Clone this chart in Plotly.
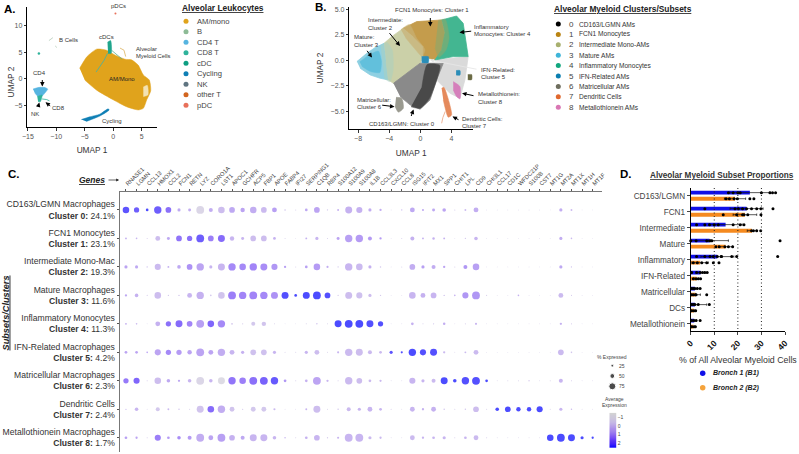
import plotly.graph_objects as go

W, H = 799, 454

# ---------- Panel A data ----------
leuk_names = ["AM/mono", "B", "CD4 T", "CD8 T", "cDC", "Cycling", "NK", "other T", "pDC"]
leuk_colors = ["#E0A31C", "#8DBB96", "#56B4E0", "#2FB39B", "#0E9E82", "#0F7FB5", "#5F7480", "#D2651F", "#E8705A"]
am_x = [-5.9, -4.6, -2.9, -1.2, 0.3, 2.1, 3.2, 4.4, 5.3, 6.35, 6.6, 5.9, 5.3, 4.4, 2.35, 0.0, -2.9, -5.0]
am_y = [2.0, 4.2, 5.6, 5.4, 4.5, 3.7, 3.6, 2.6, 0.75, -0.2, -2.2, -3.9, -5.5, -5.8, -5.2, -3.9, -2.1, -0.2]
hole_x = [5.3, 6.0, 6.1, 5.3]
hole_y = [-1.5, -1.2, -3.0, -3.3]
cd4_x = [-14.1, -13.2, -12.0, -11.5, -11.9, -12.6, -13.2, -13.8]
cd4_y = [-1.9, -1.6, -1.6, -1.9, -2.5, -3.3, -3.3, -2.6]
cd8_x = [-13.35, -12.5, -12.8, -13.2]
cd8_y = [-3.3, -3.0, -4.25, -4.25]
cyc_x = [-5.6, -4.1, -2.35, -0.9, -0.7, -2.35, -4.7]
cyc_y = [-7.6, -7.1, -6.6, -5.6, -5.8, -6.95, -7.95]
cdc_x = [-1.0, -0.45, -0.35, -0.9]
cdc_y = [6.9, 7.2, 4.8, 4.8]
cdc_line_x = [-1.0, -1.6, -3.0]
cdc_line_y = [4.8, 3.5, 1.3]
cdc_line2_x = [-0.3, 0.6, 1.6]
cdc_line2_y = [5.4, 4.6, 3.7]
tan_x = [1.2, 1.9, 2.2]
tan_y = [5.8, 5.4, 4.2]
cd8_tail_x = [-12.5, -11.7, -11.2]
cd8_tail_y = [-3.75, -3.85, -4.1]
bcell_x = [-11.3, -10.6]
bcell_y = [7.2, 7.75]
bcell2_x = [-10.2, -9.9]
bcell2_y = [6.2, 5.9]
teal_pt = ([-13.06], [4.8])
pdc_pt = ([0.4], [12.3])

# ---------- Panel B data ----------
sub_names = ["CD163/LGMN AMs", "FCN1 Monocytes", "Intermediate Mono-AMs", "Mature AMs", "Inflammatory Monocytes",
             "IFN-Related AMs", "Matricellular AMs", "Dendritic Cells", "Metallothionein AMs"]
sub_colors = ["#000000", "#BA8413", "#A8B06F", "#3FB5D9", "#12A77E", "#0A7EB0", "#6E6E5E", "#E0682E", "#D977B4"]
mature_x = [-8.16, -6.88, -5.81, -4.66, -4.4, -4.1, -5.17, -6.45, -7.74]
mature_y = [-0.13, 0.68, 1.24, 1.66, -0.13, -1.92, -1.76, -1.43, -0.78]
mature_core_x = [-7.8, -6.6, -5.4, -5.0, -5.2, -6.4, -7.5]
mature_core_y = [-0.15, 0.5, 0.9, -0.1, -1.2, -1.1, -0.6]
inter_x = [-4.66, -3.68, -2.18, -0.9, 0.38, 0.38, -0.04, -1.75, -3.46, -4.1, -4.4]
inter_y = [1.66, 2.31, 3.13, 2.31, 1.34, 0.36, -0.29, -1.27, -2.25, -1.92, -0.13]
blend_mi_x = [-5.1, -4.3, -3.6, -3.5, -3.9, -4.6]
blend_mi_y = [1.4, 1.75, 1.0, -1.0, -2.1, -1.8]
blend_if_x = [-2.5, -1.4, -0.5, 0.6, 0.2, -0.8, -1.9]
blend_if_y = [3.0, 3.5, 2.2, 1.0, 0.4, 1.2, 2.2]
fcn_x = [-2.18, -0.47, 2.74, 3.16, 2.74, 1.88, 0.38, 0.38, -0.9]
fcn_y = [3.13, 3.78, 3.94, 2.64, 1.01, 0.03, 0.36, 1.34, 2.31]
infl_x = [2.74, 4.66, 5.51, 5.94, 6.15, 4.23, 1.88, 2.74, 3.16]
infl_y = [3.94, 4.33, 3.62, 1.66, 0.36, 0.36, 0.03, 1.01, 2.64]
blend_fi_x = [2.3, 3.2, 3.7, 3.3, 2.4, 1.9]
blend_fi_y = [3.9, 4.0, 2.2, 1.0, 0.3, 1.2]
cd163_x = [-3.46, -1.75, -0.04, 2.95, 2.09, 1.24, -0.04, -1.32, -2.6]
cd163_y = [-2.25, -1.27, -0.29, -0.29, -1.92, -3.88, -4.79, -4.36, -3.55]
core_x = [-1.2, 0.0, 1.2, 2.5, 0.9, 0.2]
core_y = [-4.55, -4.7, -3.7, -0.5, -0.4, -2.6]
grey_x = [1.88, 6.15, 5.73, 5.09, 3.8, 2.09, 2.95]
grey_y = [0.03, 0.36, -1.92, -3.71, -3.22, -1.92, -0.29]
metal_x = [4.23, 5.09, 5.09, 4.66, 4.23]
metal_y = [-2.08, -2.57, -3.78, -3.55, -2.9]
dc_x = [2.74, 3.03, 4.02, 3.59, 2.95]
dc_y = [-2.74, -2.64, -5.34, -5.57, -3.88]
dc_tail_x = [3.2, 2.9, 2.74]
dc_tail_y = [-5.0, -5.6, -6.16]
ifn_x = [0.17, 1.03, 1.03, 0.17]
ifn_y = [0.36, 0.36, -0.23, -0.23]
ifn2_x = [4.6, 5.1, 5.1, 4.6]
ifn2_y = [-1.0, -1.0, -1.45, -1.45]
matr_x = [-3.12, -2.39, -2.18, -2.82, -3.25]
matr_y = [-3.62, -3.71, -4.69, -5.08, -4.53]
olive_x = [6.1, 6.6, 6.6, 6.1]
olive_y = [-1.4, -1.4, -1.9, -1.9]

# ---------- Panel C data ----------
genes = ["RNASE1", "LGMN", "CCL13", "HMOX1", "CCL2", "FCN1", "RETN", "LYZ", "CORO1A", "LST1",
         "APOC1", "GCHFR", "ACP5", "FBP1", "APOE", "FABP4", "IFI27", "SERPING1", "C1QB", "RBP4",
         "S100A12", "S100A9", "S100A8", "IL1B", "CCL3L3", "CXCL10", "CCL8", "ISG15", "IFIT2", "MX1",
         "SPP1", "CHIT1", "LPL", "CD9", "CHI3L1", "CCL17", "CD1C", "WFDC21P", "S100B", "CST7",
         "MT1G", "MT2A", "MT1X", "MT1H", "MT1F"]
subsets = ["CD163/LGMN Macrophages<br><b>Cluster 0:</b> 24.1%",
           "FCN1 Monocytes<br><b>Cluster 1:</b> 23.1%",
           "Intermediate Mono-Mac<br><b>Cluster 2:</b> 19.3%",
           "Mature Macrophages<br><b>Cluster 3:</b> 11.6%",
           "Inflammatory Monocytes<br><b>Cluster 4:</b> 11.3%",
           "IFN-Related Macrophages<br><b>Cluster 5:</b> 4.2%",
           "Matricellular Macrophages<br><b>Cluster 6:</b> 2.3%",
           "Dendritic Cells<br><b>Cluster 7:</b> 2.4%",
           "Metallothionein Macrophages<br><b>Cluster 8:</b> 1.7%"]
pct0 = [70, 55, 25, 80, 60, 30, 28, 85, 40, 70, 60, 45, 70, 60, 50, 12, 6, 25, 60, 8, 16, 75, 65, 30, 20, 3, 8, 50, 18, 28, 35, 6, 15, 50, 3, 3, 3, 3, 3, 3, 2, 30, 15, 2, 2]
exp0 = [2.3, 2.1, 2.5, 2.1, 1.7, .5, .4, -.9, .4, 0, .5, .6, .4, .1, .7, -.3, -.6, .5, .6, -.3, .3, .3, .3, .4, .4, -.6, .2, .5, .5, .5, .6, -.3, .1, .4, -.6, -.6, -.6, -.6, -.6, -.6, -.6, .4, .1, -.6, -.6]
pct1 = [15, 12, 5, 50, 28, 60, 55, 85, 60, 75, 45, 28, 60, 60, 25, 5, 3, 15, 30, 6, 28, 80, 80, 40, 20, 3, 5, 40, 15, 22, 15, 3, 8, 35, 3, 3, 3, 3, 3, 3, 2, 30, 12, 2, 2]
exp1 = [.3, .2, -.4, 0, .5, 1.6, 1.7, 2.1, 1.4, 1.8, .2, .2, 0, 0, .3, -.6, -.6, .3, .2, -.5, .6, .7, .8, .8, .8, -.6, -.5, .3, .3, .3, .3, -.6, -.3, .2, -.6, -.6, -.6, -.6, -.6, -.6, -.6, .4, .1, -.6, -.6]
pct2 = [30, 30, 8, 65, 15, 35, 60, 80, 30, 75, 80, 70, 80, 75, 65, 20, 5, 25, 70, 18, 8, 80, 70, 30, 10, 4, 5, 60, 30, 40, 20, 5, 40, 70, 3, 3, 3, 3, 3, 3, 3, 30, 8, 3, 2]
exp2 = [.6, .5, 0, .1, .4, .5, 1.0, .6, .2, .2, 1.2, 1.2, 1.3, 1.1, .9, .7, -.6, .7, .8, .4, -.3, .2, .1, .3, -.3, -.6, -.5, .4, .7, .4, .6, -.5, .9, .7, -.6, -.6, -.6, -.6, -.6, -.6, -.6, .5, -.1, -.6, -.6]
pct3 = [20, 35, 5, 70, 8, 10, 50, 80, 12, 70, 85, 80, 85, 80, 75, 75, 25, 75, 85, 60, 8, 75, 65, 30, 8, 3, 4, 70, 50, 60, 10, 12, 65, 85, 6, 3, 4, 12, 4, 2, 3, 50, 6, 4, 3]
exp3 = [.5, .3, -.4, 0, -.3, -.3, .2, .3, -.3, -.2, 1.4, 1.3, 1.3, 1.2, 1.0, 2.4, 2.5, 2.5, 2.5, 2.4, -.4, 0, -.1, 0, -.4, -.6, -.6, .2, .3, .2, -.2, .3, .9, .9, -.5, -.6, -.6, .3, -.5, -.6, -.6, .1, -.4, -.6, -.6]
pct4 = [15, 12, 4, 50, 55, 75, 60, 85, 70, 80, 15, 8, 40, 45, 5, 3, 3, 5, 10, 5, 75, 85, 85, 75, 55, 4, 4, 25, 5, 8, 22, 3, 6, 18, 3, 3, 3, 3, 3, 3, 3, 20, 6, 3, 2]
exp4 = [.3, .1, -.5, .3, 1.7, 1.8, 1.3, .7, 1.9, 1.2, -.4, -.5, -.3, -.2, -.6, -.6, -.6, -.6, -.2, -.6, 2.5, 2.5, 2.5, 2.4, 2.4, -.6, -.6, .3, -.5, -.3, .4, -.6, -.5, .2, -.6, -.6, -.6, -.6, -.6, -.6, -.6, .3, -.4, -.6, -.6]
pct5 = [25, 25, 12, 65, 55, 55, 45, 85, 50, 80, 50, 30, 60, 60, 30, 5, 5, 30, 50, 5, 18, 80, 75, 40, 25, 30, 18, 80, 65, 75, 20, 4, 15, 50, 3, 3, 3, 3, 3, 3, 3, 60, 12, 3, 2]
exp5 = [.6, .6, .8, .6, 1.2, .8, .6, .6, .6, .4, .2, .3, -.1, -.1, .2, -.6, -.6, .2, 0, -.6, .2, .1, 0, .1, .1, 2.3, 2.4, 2.5, 2.4, 2.4, .1, -.6, .1, .1, -.6, -.6, -.6, -.6, -.6, -.6, -.6, .1, -.2, -.6, -.6]
pct6 = [55, 65, 5, 70, 35, 20, 35, 85, 35, 75, 80, 70, 85, 85, 80, 25, 6, 25, 85, 20, 6, 80, 60, 25, 20, 4, 3, 65, 30, 40, 75, 35, 80, 85, 25, 4, 5, 5, 10, 4, 5, 40, 6, 3, 3]
exp6 = [1.5, 1.9, -.4, 0, .5, .5, .2, -.9, .2, -1.2, 1.6, 1.4, 1.7, 2.0, 2.2, .9, -.6, .3, .6, .2, -.5, .1, 0, .1, .1, -.6, -.6, .2, .2, .1, 2.5, 2.5, 2.4, 2.4, 2.5, -.6, -.6, -.6, -.4, -.6, -.6, .2, -.4, -.6, -.6]
pct7 = [8, 35, 4, 40, 15, 10, 5, 75, 70, 80, 50, 8, 50, 50, 18, 3, 3, 15, 75, 5, 10, 40, 30, 50, 25, 6, 3, 50, 20, 50, 10, 5, 10, 60, 5, 35, 60, 45, 45, 65, 5, 30, 10, 3, 3]
exp7 = [.1, .2, -.5, -.3, .1, -.2, -.5, -.2, 1.8, .4, -.2, -.4, -.3, -.3, .1, -.6, -.6, .2, 0, -.6, -.3, .1, .2, .2, .2, -.5, -.6, .2, .3, .3, -.2, -.6, -.3, 0, -.6, 2.5, 2.5, 2.5, 2.5, 2.5, -.6, .2, .1, -.6, -.6]
pct8 = [25, 20, 5, 65, 25, 35, 40, 85, 50, 85, 60, 40, 75, 75, 35, 12, 5, 25, 60, 8, 18, 85, 85, 30, 20, 4, 3, 50, 20, 25, 30, 6, 25, 50, 6, 3, 3, 3, 3, 3, 70, 85, 75, 30, 20]
exp8 = [.7, .6, -.4, 1.4, .8, 1.1, .8, .4, .6, .7, .3, .5, .2, .2, .2, .1, -.6, .3, .2, -.4, .2, .2, .2, .1, .1, -.6, -.6, .1, .2, .2, .2, -.5, .2, .1, -.5, -.6, -.6, -.6, -.6, -.6, 2.5, 2.5, 2.5, 2.5, 2.5]
pct_rows = [pct0, pct1, pct2, pct3, pct4, pct5, pct6, pct7, pct8]
exp_rows = [exp0, exp1, exp2, exp3, exp4, exp5, exp6, exp7, exp8]
legend_pct = [25, 50, 75]
legend_exp = [-1.5, -1.25, -1, -.75, -.5, -.25, 0, .25, .5, .75, 1, 1.25, 1.5, 1.75, 2, 2.25, 2.5]

# ---------- Panel D data ----------
d_names = ["CD163/LGMN", "FCN1", "Intermediate", "Mature", "Inflammatory", "IFN-Related", "Matricellular", "DCs", "Metallothionein"]
b1_mean = [25.1, 23.7, 14.8, 8.0, 11.3, 4.2, 1.8, 1.8, 1.5]
b2_mean = [18.8, 23.0, 26.0, 14.8, 4.0, 2.5, 2.1, 1.4, 1.2]
b1_err = [8.5, 7.0, 7.0, 8.0, 7.0, 1.6, 1.0, 5.0, 1.0]
b2_err = [4.5, 5.0, 2.0, 3.0, 3.5, 1.0, 2.0, 0.8, 0.6]
b1_pts = [[16, 18, 20, 21, 30, 33.6, 34.7, 36],
          [6, 18.8, 20.2, 22, 23.7, 25.8, 28, 29.8, 34.9],
          [2.5, 6, 8, 10, 11.7, 18, 21, 22.6],
          [0, 2.3, 6.8, 8, 8.5, 9, 37.9],
          [2.5, 6, 8.2, 9.6, 11.3, 12.9, 13.1, 17.4, 19.5, 36.9],
          [.4, 2.5, 4, 5, 6, 7],
          [.4, 1.1, 1.8, 2.8, 4],
          [.4, 1.1, 1.8, 3.2, 7.9],
          [.4, 1.4, 2.3, 4]]
b2_pts = [[15, 16.4, 18.4, 19.8, 25.1, 26.8],
          [13.8, 19.5, 22, 22.6, 24.2, 29.8],
          [25.8, 26.6, 28, 29.7],
          [10.7, 12.1, 14.5, 16, 17.8],
          [1.1, 2.8, 4.7, 6.8, 9.6, 12],
          [1.1, 2.3, 3.2, 4.2],
          [.4, 1.1, 2, 2.3, 6.8],
          [.4, 1.4, 2.1],
          [.4, 1.4, 2]]
d_grid = [10, 20, 30]

COLOR = [[0, "#D3D3D3"], [.25, "#C7BAE4"], [.4, "#B59CE8"], [.55, "#9A78EE"], [.7, "#7A50F4"], [.85, "#4A25F9"], [1, "#0000FF"]]
TXT = "#333333"
FONT = "Liberation Sans, Arial, sans-serif"


def dx(a, b):
    return [a / W, b / W]


def dy(t, b):
    return [1 - b / H, 1 - t / H]


fig = go.Figure()


def poly(xs, ys, color, ax, opacity=1.0, smooth=True):
    ln = dict(color=color, width=0.5, shape="spline", smoothing=0.6) if smooth else dict(color=color, width=0.8, shape="linear")
    fig.add_trace(go.Scatter(x=xs, y=ys, mode="lines", fill="toself", fillcolor=color, opacity=opacity, line=ln,
                             xaxis="x" + ax, yaxis="y" + ax, hoverinfo="skip", showlegend=False))


def line(xs, ys, color, ax, width=1.0):
    fig.add_trace(go.Scatter(x=xs, y=ys, mode="lines", line=dict(color=color, width=width),
                             xaxis="x" + ax, yaxis="y" + ax, hoverinfo="skip", showlegend=False))


# Panel A marks
poly(am_x, am_y, leuk_colors[0], "")
poly(hole_x, hole_y, "#F3E2B4", "")
line(cdc_line_x, cdc_line_y, "#5FB08F", "", 1.0)
line(cdc_line2_x, cdc_line2_y, "#5FB08F", "", 0.8)
line(tan_x, tan_y, "#E3C27F", "", 1.0)
poly(cdc_x, cdc_y, "#1FA58C", "")
poly(cd4_x, cd4_y, leuk_colors[2], "")
poly(cd8_x, cd8_y, leuk_colors[3], "")
line(cd8_tail_x, cd8_tail_y, leuk_colors[3], "", 0.8)
poly(cyc_x, cyc_y, leuk_colors[5], "")
line(bcell_x, bcell_y, "#A9C3AE", "", 0.7)
line(bcell2_x, bcell2_y, "#A9C3AE", "", 0.7)
fig.add_trace(go.Scatter(x=teal_pt[0], y=teal_pt[1], mode="markers", marker=dict(size=2.5, color=leuk_colors[3]), hoverinfo="skip", showlegend=False))
fig.add_trace(go.Scatter(x=pdc_pt[0], y=pdc_pt[1], mode="markers", marker=dict(size=2, color=leuk_colors[8]), hoverinfo="skip", showlegend=False))

# Panel B marks
poly(grey_x, grey_y, "#DADADA", "2", smooth=False)
poly(mature_x, mature_y, "#8FD0E2", "2", smooth=False)
poly(mature_core_x, mature_core_y, "#62C0DC", "2")
poly(inter_x, inter_y, "#CBD0A8", "2", smooth=False)
poly(blend_mi_x, blend_mi_y, "#ABD0C0", "2", 0.55)
poly(fcn_x, fcn_y, "#C49C4C", "2", smooth=False)
poly(blend_if_x, blend_if_y, "#C9B276", "2", 0.7)
poly(infl_x, infl_y, "#43B691", "2", smooth=False)
poly(blend_fi_x, blend_fi_y, "#8BA96C", "2", 0.6)
poly(cd163_x, cd163_y, "#8A8A8A", "2", smooth=False)
poly(core_x, core_y, "#3A3A3A", "2", 0.8)
poly(metal_x, metal_y, "#D57FBB", "2")
poly(dc_x, dc_y, "#E58A5C", "2")
line(dc_tail_x, dc_tail_y, "#E9A27F", "2", 0.8)
poly(ifn_x, ifn_y, "#2A8DB8", "2")
poly(ifn2_x, ifn2_y, "#2A8DB8", "2")
poly(matr_x, matr_y, "#9A9A90", "2")
poly(olive_x, olive_y, "#6B6B45", "2")

# Panel C marks
for r, label in enumerate(subsets):
    fig.add_trace(go.Scatter(
        x=genes, y=[label] * len(genes), mode="markers", xaxis="x3", yaxis="y3", showlegend=False, hoverinfo="skip",
        marker=dict(size=[p * 0.085 + 0.6 for p in pct_rows[r]], color=exp_rows[r], colorscale=COLOR,
                    cmin=-1.5, cmax=2.5, line=dict(width=0))))

# Panel D marks
for offs, means, errs, pts, col in [(-0.19, b1_mean, b1_err, b1_pts, "#1010E8"), (0.19, b2_mean, b2_err, b2_pts, "#F58A1F")]:
    ys = [i + offs for i in range(len(d_names))]
    fig.add_trace(go.Bar(x=means, y=ys, orientation="h", width=0.24, marker=dict(color=col, line=dict(width=0)),
                         error_x=dict(type="data", array=errs, color="#111111", thickness=0.7, width=1.2),
                         xaxis="x4", yaxis="y4", showlegend=False, hoverinfo="skip"))
    px_ = [v for row in pts for v in row]
    py_ = [ys[i] for i, row in enumerate(pts) for _ in row]
    fig.add_trace(go.Scatter(x=px_, y=py_, mode="markers", marker=dict(size=3, color="black"),
                             xaxis="x4", yaxis="y4", showlegend=False, hoverinfo="skip", cliponaxis=False))

# Legends on overlay axis (pixel space)
fig.add_trace(go.Scatter(x=[186] * 9, y=[21.3 + 10.5 * i for i in range(9)], mode="markers",
                         marker=dict(size=5, color=leuk_colors), xaxis="x5", yaxis="y5", showlegend=False, hoverinfo="skip"))
fig.add_trace(go.Scatter(x=[558.3] * 9, y=[24 + 10.4 * i for i in range(9)], mode="markers",
                         marker=dict(size=5, color=sub_colors), xaxis="x5", yaxis="y5", showlegend=False, hoverinfo="skip"))
fig.add_trace(go.Scatter(x=[702.7, 702.7], y=[373.3, 387.7], mode="markers",
                         marker=dict(size=5.5, color=["#1010E8", "#F5A33C"]), xaxis="x5", yaxis="y5", showlegend=False, hoverinfo="skip"))
fig.add_trace(go.Scatter(x=[612.3] * 3, y=[365.7, 376, 386.3], mode="markers",
                         marker=dict(size=[p * 0.085 + 0.6 for p in legend_pct], color="black"), xaxis="x5", yaxis="y5", showlegend=False, hoverinfo="skip"))

# Colour scale
fig.add_trace(go.Heatmap(z=[[v] for v in legend_exp], y=legend_exp, x=[0], colorscale=COLOR, zmin=-1.5, zmax=2.5,
                         showscale=False, zsmooth="best", xaxis="x6", yaxis="y6", hoverinfo="skip"))

annos = []


def text(x, y, s, size=6, anchor="center", color=TXT, **kw):
    shift = -1.5 if anchor == "left" else 0
    annos.append(dict(x=x + shift, y=y, xref="x5", yref="y5", text=s, showarrow=False, xanchor=anchor,
                      yanchor="middle", font=dict(size=size, color=color, family=FONT), **kw))


def arrow(x0, y0, x1, y1, color="black", width=1.0, size=0.9):
    annos.append(dict(x=x1, y=y1, ax=x0, ay=y0, xref="x5", yref="y5", axref="x5", ayref="y5",
                      text="", showarrow=True, arrowhead=2, arrowsize=size, arrowwidth=width, arrowcolor=color))


# Panel letters
text(3, 8.5, "<b>A.</b>", 11.5, "left", "black")
text(314, 7, "<b>B.</b>", 11.5, "left", "black")
text(7, 174, "<b>C.</b>", 11.5, "left", "black")
text(619, 174, "<b>D.</b>", 11.5, "left", "black")

# Panel A texts
text(10.7, 81.7, "UMAP 2", 8.3, "center", "#333333", textangle=-90)
text(118, 6.3, "pDCs", 6)
text(68, 40, "B Cells", 6)
text(106, 37.3, "cDCs", 6)
text(135.7, 48.7, "Alveolar", 5.8, "left")
text(135.7, 56, "Myeloid Cells", 5.8, "left")
text(121.7, 79.3, "AM/Mono", 6, color="#222222")
text(39, 73.3, "CD4", 6)
text(35, 114, "NK", 6)
text(58.3, 108.3, "CD8", 6)
text(112.3, 121.3, "Cycling", 6)
arrow(42.3, 78.5, 42.3, 86.5)
arrow(37.7, 108.5, 39.3, 102.5)
arrow(51.7, 107, 45.5, 102.3)
text(181, 8.3, "<b><u>Alveolar Leukocytes</u></b>", 8.4, "left", "#222222")
for i, n in enumerate(leuk_names):
    text(196, 21.3 + 10.5 * i, n, 7.6, "left", "#444444")

# Panel B texts
text(431.7, 10, "FCN1 Monocytes: Cluster 1", 6)
arrow(430.3, 16.5, 430.3, 26.5)
text(367.3, 20, "Intermediate:", 6, "left")
text(367.3, 27.7, "Cluster 2", 6, "left")
arrow(388.3, 31.7, 400, 46)
text(353, 37.3, "Mature:", 6, "left")
text(353, 44.7, "Cluster 3", 6, "left")
arrow(366, 49.3, 372, 57.5)
text(473.3, 27.3, "Inflammatory", 6, "left")
text(473.3, 34.3, "Monocytes: Cluster 4", 6, "left")
arrow(472.7, 31, 459.5, 32.5)
text(480.7, 69.7, "IFN-Related:", 6, "left")
text(480.7, 76.7, "Cluster 5", 6, "left")
arrow(478, 69.5, 430, 60, color="#E6E6E6", width=0.9)
text(477.3, 94.3, "Metallothionein:", 6, "left")
text(477.3, 101.7, "Cluster 8", 6, "left")
arrow(475, 96, 462, 93.2)
text(461.7, 118.7, "Dendritic Cells:", 6, "left")
text(461.7, 126, "Cluster 7", 6, "left")
arrow(460, 120.5, 452.5, 116.5)
text(356, 100, "Matricellular:", 6, "left")
text(356, 107.3, "Cluster 6", 6, "left")
arrow(380.7, 105, 394.5, 106.7)
text(401.7, 124.3, "CD163/LGMN: Cluster 0", 6)
arrow(410.7, 117.5, 413.5, 109.5)
text(553, 9, "<b><u>Alveolar Myeloid Clusters/Subsets</u></b>", 8.4, "left", "#222222")
for i, n in enumerate(sub_names):
    text(571, 24 + 10.4 * i, str(i), 8, "center", "#444444")
    text(578.7, 24 + 10.4 * i, n, 6.6, "left", "#333333")

# Panel C texts
text(78.5, 180, "<b><i><u>Genes</u></i></b>", 8.5, "left", "#222222")
arrow(107, 180, 119, 180, color="#222222", width=0.7, size=0.8)
text(5.5, 313, "<b><i><u>Subsets/Clusters</u></i></b>", 9.2, "center", "#222222", textangle=-90)
text(611.7, 357, "% Expressed", 5, "center", "#444444")
for yy, p in zip([365.7, 376, 386.3], legend_pct):
    text(618.5, yy, str(p), 5, "left", "#444444")
text(614.3, 399.3, "Average", 5, "center", "#444444")
text(614.3, 405.3, "Expression", 5, "center", "#444444")

# Panel D texts
text(649, 175.7, "<b><u>Alveolar Myeloid Subset Proportions</u></b>", 8.2, "left", "#333333")
text(712, 373.3, "<b><i>Bronch 1 (B1)</i></b>", 7, "left", "#222222")
text(712, 387.7, "<b><i>Bronch 2 (B2)</i></b>", 7, "left", "#222222")

umap_tick = dict(showline=True, linecolor="black", linewidth=1, ticks="outside", ticklen=2.5, tickwidth=0.8, tickcolor="#333333",
                 zeroline=False, showgrid=False, automargin=False, tickfont=dict(size=7, color="#555555", family=FONT))
ut = dict(font=dict(size=8.3, color="#333333", family=FONT))

shapes = [dict(type="line", xref="x4", yref="y4", x0=v, x1=v, y0=-0.48, y1=8.46, line=dict(color="#222222", width=1, dash="1px,2.5px"), layer="above") for v in d_grid]

fig.update_layout(
    template="none",
    width=W, height=H, margin=dict(l=0, r=0, t=0, b=0, pad=0), paper_bgcolor="white", plot_bgcolor="rgba(0,0,0,0)",
    font=dict(family=FONT), showlegend=False, annotations=annos, shapes=shapes, barmode="overlay",
    xaxis=dict(domain=dx(27.3, 156.7), range=[-15.1, 7.65], tickvals=[-15, -10, -5, 0, 5], title=dict(text="UMAP 1", standoff=7, **ut), **umap_tick),
    yaxis=dict(domain=dy(7, 127.3), range=[-9.06, 13.5], tickvals=[-5, 0, 5, 10], **umap_tick),
    xaxis2=dict(domain=dx(349.3, 473), range=[-9.13, 6.77], tickvals=[-8, -4, 0, 4], anchor="y2", title=dict(text="UMAP 1", standoff=9, **ut), **umap_tick),
    yaxis2=dict(domain=dy(7, 129), range=[-6.72, 5.21], tickvals=[-5, -2.5, 0, 2.5, 5], tickformat=".1f", anchor="x2", title=dict(text="UMAP 2", standoff=5, **ut), **umap_tick),
    xaxis3=dict(domain=dx(119.7, 601.7), range=[-0.59, 44.85], type="category", categoryorder="array", categoryarray=genes, tickmode="array",
                tickvals=genes, ticktext=genes, anchor="y3", side="top", tickangle=-45, showline=True, linecolor="#777777", linewidth=1, ticks="outside", ticklen=2,
                tickcolor="#555555", showgrid=False, zeroline=False, automargin=False, tickfont=dict(size=5.8, color="#444444", family=FONT)),
    yaxis3=dict(domain=dy(192.3, 451.7), range=[8.49, -0.62], type="category", categoryorder="array", categoryarray=subsets, tickmode="array",
                tickvals=subsets, ticktext=subsets, anchor="x3", showline=True, linecolor="#777777", linewidth=1.2, ticks="outside", ticklen=2,
                tickcolor="#555555", showgrid=False, zeroline=False, automargin=False, tickfont=dict(size=8.6, color="#333333", family=FONT)),
    xaxis4=dict(domain=dx(690.7, 785), range=[0, 40], tickvals=[0, 10, 20, 30, 40], anchor="y4", tickangle=-45, showline=True, linecolor="black", linewidth=1, ticks="outside",
                ticklen=3, showgrid=False, zeroline=False, automargin=False, tickfont=dict(size=8.5, color="#111111", family=FONT),
                ticktext=["<b>0</b>", "<b>10</b>", "<b>20</b>", "<b>30</b>", "<b>40</b>"], title=dict(text="% of All Alveolar Myeloid Cells", standoff=5, font=dict(size=8.8, color="#333333", family=FONT))),
    yaxis4=dict(domain=dy(188, 331), range=[8.46, -0.48], tickvals=list(range(9)), ticktext=d_names, anchor="x4", showline=True, linecolor="black", linewidth=1, ticks="outside",
                ticklen=3, showgrid=False, zeroline=False, automargin=False, tickfont=dict(size=8.2, color="#444444", family=FONT)),
    xaxis5=dict(domain=[0, 1], range=[0, W], visible=False, anchor="y5", automargin=False),
    yaxis5=dict(domain=[0, 1], range=[H, 0], visible=False, anchor="x5", automargin=False),
    xaxis6=dict(domain=dx(609.3, 616.7), range=[-0.5, 0.5], visible=False, anchor="y6", automargin=False),
    yaxis6=dict(domain=dy(412.7, 448), range=[2.54, -1.53], side="right", anchor="x6", tickvals=[-1, 0, 1, 2], showline=False, ticks="", showgrid=False, zeroline=False, automargin=False,
                tickfont=dict(size=5, color="#444444", family=FONT)),
)

fig.write_html("out.html", config={"displayModeBar": False}, post_script="document.body.style.margin='0';document.body.style.overflow='hidden';")
